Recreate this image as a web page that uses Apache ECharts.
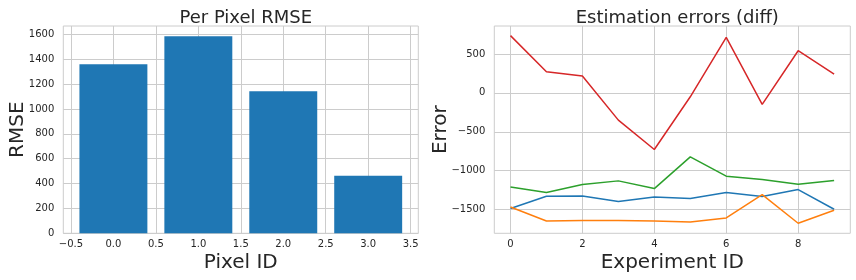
<!DOCTYPE html>
<html>
<head>
<meta charset="utf-8">
<script src="https://cdn.jsdelivr.net/npm/echarts@6/dist/echarts.min.js"></script>
<style>html,body{margin:0;padding:0;background:#fff}#c{width:856px;height:280px}</style>
</head>
<body>
<div id="c"></div>
<script>
// ---- data ----
const pixelIds = [0, 1, 2, 3];
const rmseValues = [1360, 1585, 1143, 464];
const experimentIds = [0, 1, 2, 3, 4, 5, 6, 7, 8, 9];
const errPixel0 = [-1487, -1329, -1324, -1397, -1338, -1359, -1281, -1333, -1243, -1496];
const errPixel1 = [-1466, -1646, -1642, -1642, -1646, -1659, -1608, -1307, -1676, -1509];
const errPixel2 = [-1209, -1281, -1178, -1131, -1230, -822, -1071, -1114, -1174, -1127];
const errPixel3 = [736, 272, 216, -350, -728, -50, 714, -148, 542, 242];
const leftXTicks = [-0.5, 3.5, 0.5];    // first, last, step
const leftYTicks = [0, 1600, 200];
const rightXTicks = [0, 8, 2];
const rightYTicks = [-1500, 500, 500];

// ---- layout ----
const TXT = '#262626', GRID = '#cccccc', FONT = 'DejaVu Sans';
const L = {x0: 63.3, x1: 418.3, y0: 26, y1: 233.3, xmin: -0.59, xmax: 3.59, ymin: 0, ymax: 1668};
const R = {x0: 494.3, x1: 850.3, y0: 26, y1: 233.3, xmin: -0.45, xmax: 9.45, ymin: -1805, ymax: 860};
function px(P, v) { return P.x0 + (v - P.xmin) / (P.xmax - P.xmin) * (P.x1 - P.x0); }
function py(P, v) { return P.y1 - (v - P.ymin) / (P.ymax - P.ymin) * (P.y1 - P.y0); }
const minus = s => String(s).replace('-', '\u2212');
const fmtInt = v => minus(Math.round(v));
const fmt1 = v => minus(Number(v).toFixed(1));

function grids(P, xt, yt) {
  return [
    {left: P.x0, top: P.y0, width: P.x1 - P.x0, height: P.y1 - P.y0, show: true, borderColor: GRID, borderWidth: 1, backgroundColor: 'transparent'},
    {left: px(P, xt[0]), top: P.y0, width: px(P, xt[1]) - px(P, xt[0]), height: P.y1 - P.y0},
    {left: P.x0, top: py(P, yt[1]), width: P.x1 - P.x0, height: py(P, yt[0]) - py(P, yt[1])}
  ];
}
const hidden = {axisLine: {show: false}, axisTick: {show: false}, axisLabel: {show: false}, splitLine: {show: false}};
function tickLabel(f, m) { return {color: TXT, fontFamily: FONT, fontSize: 10, formatter: f, margin: m}; }
function axes(P, gi, xt, yt, xname, yname, yGap, xfmt) {
  const nameStyle = {color: TXT, fontFamily: FONT, fontSize: 20};
  const xs = [
    Object.assign({type: 'value', gridIndex: gi, min: P.xmin, max: P.xmax, name: xname, nameLocation: 'middle', nameGap: 19, nameTextStyle: nameStyle}, hidden),
    {type: 'value', gridIndex: gi + 1, min: xt[0], max: xt[1], interval: xt[2], axisLine: {show: false}, axisTick: {show: false},
      axisLabel: tickLabel(xfmt, 6), splitLine: {show: true, lineStyle: {color: GRID, width: 1}}},
    Object.assign({type: 'value', gridIndex: gi + 2, min: 0, max: 1}, hidden)
  ];
  const ys = [
    Object.assign({type: 'value', gridIndex: gi, min: P.ymin, max: P.ymax, name: yname, nameLocation: 'middle', nameGap: yGap, nameTextStyle: nameStyle}, hidden),
    Object.assign({type: 'value', gridIndex: gi + 1, min: 0, max: 1}, hidden),
    {type: 'value', gridIndex: gi + 2, min: yt[0], max: yt[1], interval: yt[2], axisLine: {show: false}, axisTick: {show: false},
      axisLabel: tickLabel(fmtInt, 9), splitLine: {show: true, lineStyle: {color: GRID, width: 1}}}
  ];
  return {xs, ys};
}
const la = axes(L, 0, leftXTicks, leftYTicks, 'Pixel ID', 'RMSE', 36, fmt1);
const ra = axes(R, 3, rightXTicks, rightYTicks, 'Experiment ID', 'Error', 44, fmtInt);

const barW = 0.8 * (L.x1 - L.x0) / (L.xmax - L.xmin);
const lineColors = ['#1f77b4', '#ff7f0e', '#2ca02c', '#d62728'];
const lineData = [errPixel0, errPixel1, errPixel2, errPixel3];

const option = {
  animation: false,
  backgroundColor: '#fff',
  title: [
    {text: 'Per Pixel RMSE', left: (L.x0 + L.x1) / 2, top: 4, textAlign: 'center', textStyle: {color: TXT, fontFamily: FONT, fontSize: 18, fontWeight: 'normal'}},
    {text: 'Estimation errors (diff)', left: (R.x0 + R.x1) / 2, top: 4, textAlign: 'center', textStyle: {color: TXT, fontFamily: FONT, fontSize: 18, fontWeight: 'normal'}}
  ],
  grid: grids(L, leftXTicks, leftYTicks).concat(grids(R, rightXTicks, rightYTicks)),
  xAxis: la.xs.concat(ra.xs),
  yAxis: la.ys.concat(ra.ys),
  series: [
    {type: 'bar', xAxisIndex: 0, yAxisIndex: 0, barWidth: barW, itemStyle: {color: '#1f77b4'},
      data: pixelIds.map((p, i) => [p, rmseValues[i]]), z: 3}
  ].concat(lineData.map((d, k) => ({
    type: 'line', name: 'Pixel ' + k, xAxisIndex: 3, yAxisIndex: 3, showSymbol: false, symbol: 'none',
    lineStyle: {color: lineColors[k], width: 1.5}, data: experimentIds.map((e, i) => [e, d[i]]), z: 3
  })))
};
const chart = echarts.init(document.getElementById('c'), null, {renderer: 'canvas'});
chart.setOption(option);
</script>
</body>
</html>
